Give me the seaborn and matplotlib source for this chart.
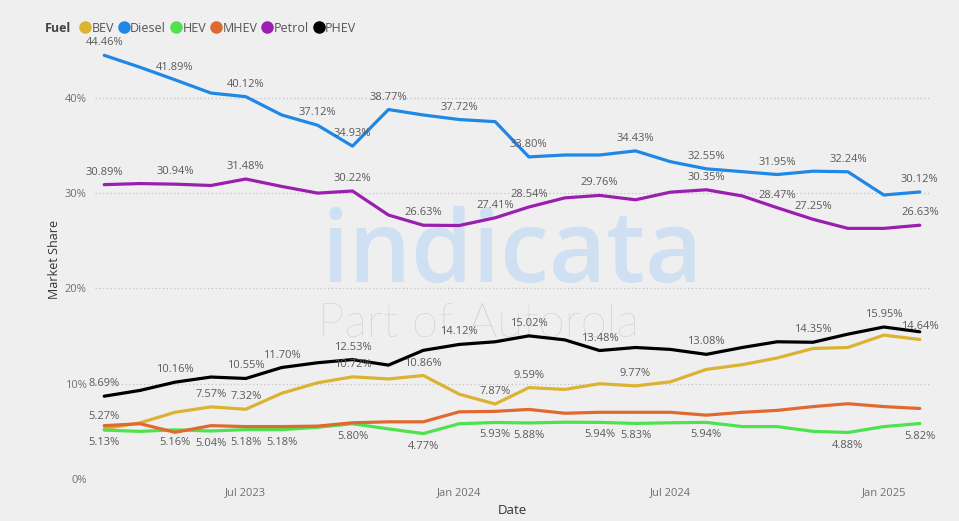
import pandas as pd
import matplotlib.pyplot as plt
import matplotlib.dates as mdates
from matplotlib.lines import Line2D
import seaborn as sns

# monthly market share (%) by fuel type, Mar 2023 - Feb 2025
dates = pd.date_range("2023-03-01", periods=24, freq="MS")

bev = [5.27, 5.9, 7.0, 7.57, 7.32, 9.0, 10.1, 10.72, 10.5, 10.86, 8.9, 7.87,
       9.59, 9.4, 10.0, 9.77, 10.2, 11.5, 12.0, 12.7, 13.7, 13.8, 15.1, 14.64]
diesel = [44.46, 43.2, 41.89, 40.5, 40.12, 38.2, 37.12, 34.93, 38.77, 38.2, 37.72, 37.5,
          33.80, 34.0, 34.0, 34.43, 33.3, 32.55, 32.25, 31.95, 32.3, 32.24, 29.8, 30.12]
hev = [5.13, 5.0, 5.16, 5.04, 5.18, 5.18, 5.43, 5.80, 5.26, 4.77, 5.8, 5.93,
       5.88, 5.96, 5.94, 5.83, 5.9, 5.94, 5.5, 5.5, 5.0, 4.88, 5.5, 5.82]
mhev = [5.6, 5.8, 4.9, 5.6, 5.5, 5.5, 5.55, 5.9, 6.0, 6.0, 7.05, 7.1,
        7.3, 6.9, 7.0, 7.0, 7.0, 6.7, 7.0, 7.2, 7.6, 7.9, 7.6, 7.4]
petrol = [30.89, 31.0, 30.94, 30.8, 31.48, 30.7, 30.0, 30.22, 27.7, 26.63, 26.6, 27.41,
          28.54, 29.5, 29.76, 29.3, 30.1, 30.35, 29.7, 28.47, 27.25, 26.3, 26.3, 26.63]
phev = [8.69, 9.3, 10.16, 10.7, 10.55, 11.70, 12.2, 12.53, 11.95, 13.5, 14.12, 14.4,
        15.02, 14.6, 13.48, 13.8, 13.6, 13.08, 13.8, 14.4, 14.35, 15.2, 15.95, 15.45]

fuels = ["BEV", "Diesel", "HEV", "MHEV", "Petrol", "PHEV"]
colors = {"BEV": "#dcb232", "Diesel": "#1f88e6", "HEV": "#4ee34e",
          "MHEV": "#e0692f", "Petrol": "#9a1fae", "PHEV": "#000000"}

# which points carry a data label (index into the months), and on which side
label_idx = {
    "Diesel": [0, 2, 4, 6, 7, 8, 10, 12, 15, 17, 19, 21, 23],
    "Petrol": [0, 2, 4, 7, 9, 11, 12, 14, 17, 19, 20, 23],
    "PHEV": [0, 2, 4, 5, 7, 10, 12, 14, 17, 20, 22],
    "BEV": [0, 3, 4, 7, 9, 11, 12, 15, 23],
    "HEV": [0, 2, 3, 4, 5, 7, 9, 11, 12, 14, 15, 17, 21, 23],
}
below = ["HEV"]

series = {"BEV": bev, "Diesel": diesel, "HEV": hev, "MHEV": mhev,
          "Petrol": petrol, "PHEV": phev}
df = pd.concat([pd.DataFrame({"Date": dates, "Share": v, "Fuel": k})
                for k, v in series.items()], ignore_index=True)

sns.set_theme(style="white")
plt.rcParams["font.family"] = ["Open Sans", "DejaVu Sans"]
bg = "#efefef"

fig = plt.figure(figsize=(9.59, 5.21), dpi=100, facecolor=bg)
ax = fig.add_axes([0.099, 0.0806, 0.871, 0.8414], facecolor=bg)

# watermark
ax.text(0.4994, 0.449, "indicata", transform=ax.transAxes, ha="center", va="baseline",
        fontsize=71, fontweight="semibold", color="#cee0f2", zorder=0.5,
        family="Open Sans")
ax.text(0.459, 0.324, "Part of Autorola", transform=ax.transAxes, ha="center",
        va="baseline", fontsize=34, fontweight="light", color="#c8c8c8", zorder=0.5,
        family="Lato")

sns.lineplot(data=df, x="Date", y="Share", hue="Fuel", hue_order=fuels,
             palette=colors, linewidth=2.3, legend=False, ax=ax, zorder=3)

for fuel, idx in label_idx.items():
    vals = series[fuel]
    off = -9 if fuel in below else 9
    for i in idx:
        ax.annotate("%.2f%%" % vals[i], (dates[i], vals[i]), xytext=(0, off),
                    textcoords="offset points", ha="center", va="center",
                    fontsize=8, color="#5a5a5a", zorder=4)

ax.set_ylim(0, 46)
ax.set_xlim(pd.Timestamp("2023-02-21"), pd.Timestamp("2025-02-10"))
ax.set_yticks([0, 10, 20, 30, 40])
ax.set_yticklabels(["0%", "10%", "20%", "30%", "40%"])
ax.xaxis.set_major_locator(mdates.MonthLocator(bymonth=[1, 7]))
ax.xaxis.set_major_formatter(mdates.DateFormatter("%b %Y"))
ax.tick_params(axis="both", length=0, labelsize=8, labelcolor="#707070", pad=6)
ax.grid(axis="y", linestyle=(0, (1, 2)), color="#c4c4c4", linewidth=0.9)
ax.set_axisbelow(True)
for s in ax.spines.values():
    s.set_visible(False)

ax.set_ylabel("Market Share", fontsize=9, color="#333333", labelpad=3)
ax.set_xlabel("Date", fontsize=9.5, color="#333333", labelpad=4)

# legend across the top
fig.text(0.047, 0.946, "Fuel", fontsize=9, fontweight="bold", color="#444444",
         va="center")
handles = [Line2D([], [], marker="o", linestyle="", markersize=8,
                  markerfacecolor=colors[f], markeredgecolor=colors[f]) for f in fuels]
fig.legend(handles, fuels, loc="center left", bbox_to_anchor=(0.079, 0.946), ncol=6,
           frameon=False, handlelength=0.7, handletextpad=0.15, columnspacing=0.45,
           fontsize=9, labelcolor="#555555", borderaxespad=0)

fig.savefig("out.png", dpi=100, facecolor=bg)
